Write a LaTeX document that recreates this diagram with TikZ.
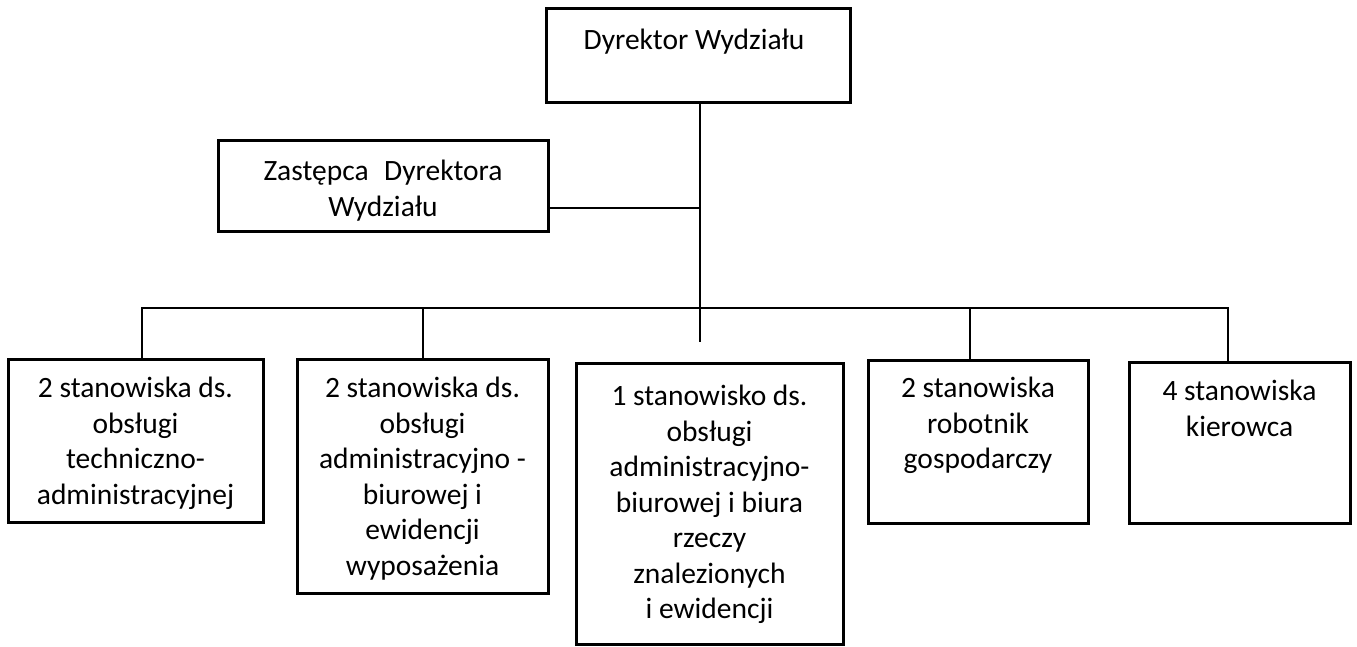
\documentclass[tikz,border=0pt]{standalone}
\usepackage{fontspec}
\setmainfont{Carlito}
\begin{document}
\begin{tikzpicture}[x=1pt,y=-1pt,
  box/.style={draw, line width=3pt, fill=white, inner sep=0pt, outer sep=0pt},
  txt/.style={align=center, font=\fontsize{29.5}{35.5}\selectfont, inner sep=0pt, anchor=north},
  conn/.style={line width=2.6pt}]
\useasboundingbox (0,0) rectangle (1357,646);
\clip (0,0) rectangle (1357,646);
\fill[white] (0,0) rectangle (1357,646);

% boxes
\node[box, minimum width=304pt, minimum height=94pt] (dyr) at (698,55) {};
\node[box, minimum width=330pt, minimum height=91pt] (zast) at (383,185.5) {};
\node[box, minimum width=255pt, minimum height=163pt] (b1) at (135.5,440.5) {};
\node[box, minimum width=251pt, minimum height=234pt] (b2) at (422.5,476) {};
\node[box, minimum width=267pt, minimum height=281pt] (b3) at (709.5,503.5) {};
\node[box, minimum width=220pt, minimum height=163pt] (b4) at (978,441.5) {};
\node[box, minimum width=221pt, minimum height=161pt] (b5) at (1239.5,442.5) {};

% texts
\node[txt] (tdyr) at (694,29) {Dyrektor Wydziału};
\node[txt] (tzast) at (383,160) {Zastępca\hspace{0.3em} Dyrektora\\Wydziału};
\node[txt] (t1) at (135.5,377) {2 stanowiska ds.\\obsługi\\techniczno-\\administracyjnej};
\node[txt] (t2) at (422.5,377) {2 stanowiska ds.\\obsługi\\administracyjno -\\biurowej i\\ewidencji\\wyposażenia};
\node[txt] (t3) at (709.5,385) {1 stanowisko ds.\\obsługi\\administracyjno-\\biurowej i biura\\rzeczy\\znalezionych\\i ewidencji};
\node[txt] (t4) at (978,377) {2 stanowiska\\robotnik\\gospodarczy};
\node[txt] (t5) at (1239.5,380) {4 stanowiska\\kierowca};

% connectors
\coordinate (hub) at (700,308);
\coordinate (stem) at (700,342);
\coordinate (zj) at (700,208);
\coordinate (bl) at (142,308);
\coordinate (br) at (1228,308);
\coordinate (d2) at (423,308);
\coordinate (d4) at (970,308);

\draw[conn] (dyr.south -| hub) -- (stem);
\draw[conn] (zast.east |- zj) -- (zj);
\draw[conn] (b1.north -| bl) -- (bl) -- (br) -- (b5.north -| br);
\draw[conn] (d2) -- (b2.north -| d2);
\draw[conn] (d4) -- (b4.north -| d4);
\end{tikzpicture}
\end{document}
